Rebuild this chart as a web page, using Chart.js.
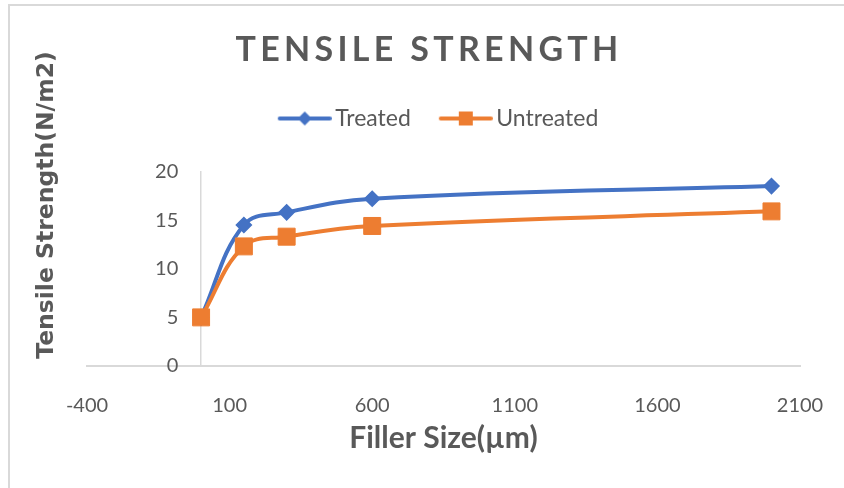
<!DOCTYPE html>
<html>
<head>
<meta charset="utf-8">
<script src="https://cdn.jsdelivr.net/npm/chart.js@4.4.1/dist/chart.umd.min.js"></script>
<style>
  html, body { margin: 0; padding: 0; background: #fff; overflow: hidden; }
  #wrap { position: relative; width: 844px; height: 488px; }
  #frame { position: absolute; left: 8px; top: 4px; width: 900px; height: 600px;
           border-top: 2px solid #d9d9d9; border-left: 2px solid #d9d9d9; }
  canvas { position: absolute; left: 0; top: 0; }
</style>
</head>
<body>
<div id="wrap">
  <div id="frame"></div>
  <canvas id="chart" width="844" height="488"></canvas>
</div>
<script>
// Filler size (µm) on the x axis
const fillerSize = [0, 150, 300, 600, 2000];
// Tensile strength (N/m2) per filler size
const treated = [5, 14.5, 15.8, 17.2, 18.5];
const untreated = [5, 12.3, 13.3, 14.4, 15.9];
const seriesNames = ['Treated', 'Untreated'];
const xTicks = [-400, 100, 600, 1100, 1600, 2100];
const yTicks = [0, 5, 10, 15, 20];
const chartTitle = 'TENSILE STRENGTH';
const xTitle = 'Filler Size(µm)';
const yTitle = 'Tensile Strength(N/m2)';

const BLUE = '#4472C4';
const ORANGE = '#ED7D31';
const TEXT = '#595959';
const AXIS = '#d9d9d9';

const toPoints = (xs, ys) => xs.map((x, i) => ({ x, y: ys[i] }));

// Legend swatch: a short line with the series marker in its middle
function legendSwatch(color, marker) {
  const c = document.createElement('canvas');
  c.width = 80; c.height = 20;
  const g = c.getContext('2d');
  g.strokeStyle = color; g.fillStyle = color;
  g.lineWidth = 4; g.lineCap = 'round';
  g.beginPath(); g.moveTo(28, 10); g.lineTo(78, 10); g.stroke();
  g.beginPath();
  if (marker === 'diamond') {
    g.moveTo(53, 3); g.lineTo(60, 10); g.lineTo(53, 17); g.lineTo(46, 10); g.closePath();
  } else {
    g.rect(46, 3, 14, 14);
  }
  g.fill();
  return c;
}
const swatches = [legendSwatch(BLUE, 'diamond'), legendSwatch(ORANGE, 'square')];

// Spread the letters of the chart title
const spacedTitle = {
  id: 'spacedTitle',
  beforeDraw(chart, args, opts) {
    const block = chart.titleBlock;
    if (!block || block._spaced) return;
    const draw = block.draw.bind(block);
    block.draw = function (area) {
      const ctx = chart.ctx;
      ctx.save();
      ctx.letterSpacing = opts.spacing + 'px';
      draw(area);
      ctx.restore();
    };
    block._spaced = true;
  }
};

// Rotated caption for the value axis
const yCaption = {
  id: 'yCaption',
  afterDraw(chart, args, opts) {
    const ctx = chart.ctx;
    ctx.save();
    ctx.translate(opts.x, opts.y);
    ctx.rotate(-Math.PI / 2);
    ctx.font = opts.font;
    ctx.fillStyle = opts.color;
    ctx.textAlign = 'center';
    ctx.textBaseline = 'middle';
    ctx.fillText(opts.text, 0, 0);
    ctx.restore();
  }
};

const tickFont = { family: 'Lato', size: 20 };
const plain = v => String(v);
const hidden = { grid: { display: false }, border: { display: false }, ticks: { display: false } };
const yRange = { min: yTicks[0], max: yTicks[yTicks.length - 1] };

new Chart(document.getElementById('chart'), {
  type: 'line',
  data: {
    datasets: [
      {
        label: seriesNames[0],
        data: toPoints(fillerSize, treated),
        borderColor: BLUE, backgroundColor: BLUE,
        borderWidth: 4, tension: 0.4,
        pointStyle: 'rectRot', pointRadius: 7.5, pointBorderWidth: 1.5,
        pointBackgroundColor: BLUE, pointBorderColor: BLUE,
        xAxisID: 'x', yAxisID: 'y', order: 1
      },
      {
        label: seriesNames[1],
        data: toPoints(fillerSize, untreated),
        borderColor: ORANGE, backgroundColor: ORANGE,
        borderWidth: 4, tension: 0.4,
        pointStyle: 'rect', pointRadius: 12, pointBorderWidth: 1,
        pointBackgroundColor: ORANGE, pointBorderColor: ORANGE,
        xAxisID: 'x', yAxisID: 'y', order: 0
      }
    ]
  },
  options: {
    responsive: false,
    animation: false,
    events: [],
    layout: { padding: { left: 14, right: 0, top: 0, bottom: 0 } },
    scales: {
      x: {
        type: 'linear', position: 'bottom',
        min: xTicks[0], max: xTicks[xTicks.length - 1],
        afterBuildTicks: s => { s.ticks = xTicks.map(v => ({ value: v })); },
        grid: { display: false },
        border: { display: true, color: AXIS, width: 2 },
        ticks: { color: TEXT, font: tickFont, padding: 20, maxRotation: 0, autoSkip: false, callback: plain },
        title: { display: true, text: xTitle, color: TEXT,
                 font: { family: 'Lato', size: 30, weight: 'bold' },
                 padding: { top: 0, bottom: 32 } },
        afterFit: s => { s.height = 122; }
      },
      // value axis: its labels sit a little to the left of the zero line
      y: Object.assign({
        type: 'linear', axis: 'y', position: { x: -80 },
        afterBuildTicks: s => { s.ticks = yTicks.map(v => ({ value: v })); },
        grid: { display: false },
        border: { display: false },
        ticks: { color: TEXT, font: tickFont, autoSkip: false, callback: plain }
      }, yRange),
      // vertical axis line crossing at x = 0
      yZero: Object.assign({
        type: 'linear', axis: 'y', position: { x: 0 },
        grid: { display: false },
        border: { display: true, color: AXIS, width: 1.5 },
        ticks: { display: false }
      }, yRange),
      yLeft: Object.assign({ type: 'linear', axis: 'y', position: 'left',
                             afterFit: s => { s.width = 73; } }, hidden),
      yRight: Object.assign({ type: 'linear', axis: 'y', position: 'right',
                              afterFit: s => { s.width = 44; } }, hidden),
      xTop: Object.assign({ type: 'linear', axis: 'x', position: 'top',
                            afterFit: s => { s.height = 31.5; } }, hidden)
    },
    plugins: {
      title: {
        display: true, text: chartTitle, color: TEXT,
        font: { family: 'Lato', size: 34, weight: 'bold' },
        padding: { top: 30, bottom: 26.2 }
      },
      spacedTitle: { spacing: 4.3 },
      legend: {
        display: true, position: 'top',
        labels: {
          color: TEXT, font: { family: 'Lato', size: 23 },
          usePointStyle: true, pointStyleWidth: 64, padding: 10,
          generateLabels(chart) {
            const items = Chart.defaults.plugins.legend.labels.generateLabels(chart);
            items.sort((a, b) => a.datasetIndex - b.datasetIndex);
            items.forEach(it => { it.pointStyle = swatches[it.datasetIndex]; });
            return items;
          }
        }
      },
      tooltip: { enabled: false },
      yCaption: { text: yTitle, x: 47, y: 205, color: TEXT,
                  font: 'bold 23.5px "DejaVu Sans"' }
    }
  },
  plugins: [spacedTitle, yCaption]
});
</script>
</body>
</html>
